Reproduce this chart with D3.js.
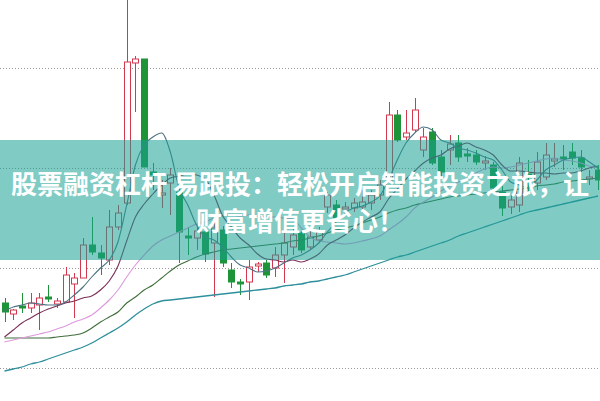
<!DOCTYPE html>
<html><head><meta charset="utf-8">
<script src="https://cdn.jsdelivr.net/npm/d3@7"></script>
<style>html,body{margin:0;padding:0;background:#fff;overflow:hidden}</style>
</head><body><svg id="c" width="600" height="401"></svg>
<script>
const openV=[16.5,15.4,16.2,16.0,16.3,17.1,16.4,16.6,18.4,19.0,22.3,21.5,20.8,24.1,26.5,40.5,40.9,29.6,27.3,28.5,27.6,23.2,23.0,23.6,22.5,23.8,19.8,18.6,18.6,20.2,20.5,20.0,21.3,22.1,23.5,22.1,22.8,26.1,26.3,25.9,26.0,26.1,26.5,27.3,28.8,35.3,33.1,33.8,31.8,33.6,31.1,31.8,32.5,31.4,31.3,30.5,30.3,27.6,26.1,26.3,29.4,28.5,29.1,30.7,31.1,31.6,31.0,28.9,29.8];
const highV=[17.0,15.9,17.5,17.5,17.5,18.3,17.0,20.1,19.5,23.0,25.1,22.3,25.8,26.3,47.3,41.2,40.9,30.5,28.8,30.0,27.8,24.1,24.5,24.0,24.8,24.2,20.5,18.9,20.8,20.6,20.8,22.1,23.5,24.1,23.8,23.7,24.1,27.6,26.8,26.6,27.0,27.8,27.8,28.8,36.6,35.8,35.8,37.0,34.0,34.0,31.8,33.3,33.3,32.0,31.8,31.2,30.6,28.2,27.3,31.1,30.8,31.6,32.5,32.5,32.3,32.5,31.8,29.8,30.3];
const lowV=[14.6,14.8,15.5,15.5,13.8,16.6,16.0,16.6,15.0,19.0,21.3,19.3,20.3,23.8,26.3,35.6,30.1,27.8,26.0,25.3,20.5,21.3,21.8,20.6,17.1,20.1,18.0,17.3,16.8,19.6,19.0,19.1,18.5,21.3,21.5,21.8,22.5,25.5,24.6,25.5,25.6,25.5,25.8,26.8,28.6,32.6,32.8,33.6,31.1,30.3,29.0,30.3,30.6,30.6,30.3,29.8,27.6,25.2,25.4,25.6,27.3,27.8,28.8,30.1,29.8,30.3,29.6,28.3,27.8];
const closeV=[15.6,15.8,16.0,16.5,17.0,16.9,16.7,19.3,19.0,22.3,21.6,21.0,24.1,25.5,40.6,40.9,30.1,29.3,27.5,29.3,23.6,23.0,23.7,21.4,24.0,20.5,18.6,18.4,20.1,20.4,19.3,21.3,22.5,23.3,21.8,23.1,23.6,27.3,25.0,26.1,26.5,26.6,27.3,28.3,35.3,32.8,33.5,35.8,33.1,30.5,29.6,32.4,31.1,31.2,30.6,30.7,28.0,26.0,26.8,30.5,29.1,30.6,31.3,30.9,30.9,31.0,30.1,29.1,28.8];
const ma5=[15.7,16.1,16.3,16.5,16.4,16.3,16.3,16.6,17.3,18.1,19.1,20.0,20.8,22.6,26.3,30.3,32.3,33.1,33.5,31.6,28.0,26.3,24.3,23.1,22.8,22.1,21.1,20.3,20.0,19.6,19.7,20.0,20.5,21.0,21.3,21.8,22.5,23.6,24.6,25.5,26.0,26.2,26.6,27.2,28.8,30.8,32.5,33.5,34.1,33.8,32.8,32.5,32.0,31.8,31.5,31.1,30.8,29.8,28.6,28.3,28.0,28.8,29.8,30.3,30.8,31.0,31.1,30.6,30.0];
const ma10=[13.1,13.8,14.5,15.0,15.5,15.9,16.2,16.5,16.7,17.0,17.2,17.8,18.7,20.2,22.7,25.1,26.4,27.4,28.3,29.0,29.2,29.4,29.3,28.9,27.3,25.2,24.1,23.0,22.3,21.4,20.9,20.8,20.6,20.8,20.6,20.9,21.4,22.3,22.8,23.3,24.0,24.6,25.1,25.6,26.9,27.9,28.9,29.7,30.5,31.0,31.3,31.9,32.2,32.5,32.1,31.8,31.3,30.3,29.7,29.7,29.6,29.5,29.5,29.4,29.5,29.5,29.7,30.0,30.2];
const ma20=[12.6,12.8,13.0,13.2,13.4,13.6,13.9,14.2,14.6,14.9,15.3,16.0,16.8,17.8,19.1,20.3,21.3,22.2,22.8,23.2,23.6,24.0,24.4,24.6,25.0,25.2,25.3,25.2,25.3,25.2,25.1,25.1,25.0,24.9,24.0,23.1,22.7,22.6,22.5,22.4,22.5,22.7,22.9,23.2,23.8,24.4,25.1,26.0,26.6,27.1,27.7,28.2,28.6,29.0,29.5,29.9,30.1,30.0,30.1,30.3,30.5,30.7,30.9,31.0,30.8,30.7,30.5,30.2,30.0];
const ma60=[13.0,13.0,13.0,13.0,13.0,13.0,13.1,13.2,13.3,13.5,14.0,14.6,15.1,15.6,16.5,17.1,17.8,18.3,19.0,19.7,20.3,20.7,21.1,21.4,21.6,21.8,21.9,22.0,22.1,22.2,22.3,22.4,22.5,22.7,22.8,23.0,23.2,23.5,23.8,24.0,24.2,24.5,24.8,25.1,25.5,25.8,26.0,26.3,26.5,26.7,26.9,27.1,27.2,27.3,27.4,27.5,27.6,27.7,27.8,27.9,28.0,28.2,28.3,28.4,28.6,28.7,28.8,28.9,29.0];
const ma120=[9.7,9.9,10.1,10.4,10.6,10.9,11.2,11.5,11.8,12.1,12.5,13.0,13.5,14.0,14.6,15.3,15.9,16.4,16.7,16.8,16.9,17.0,17.1,17.2,17.3,17.4,17.5,17.6,17.7,17.8,17.9,18.0,18.2,18.3,18.4,18.6,18.7,18.9,19.1,19.3,19.6,19.9,20.2,20.5,20.8,21.1,21.3,21.6,21.9,22.2,22.5,22.8,23.2,23.5,23.8,24.1,24.4,24.7,25.0,25.3,25.6,25.8,26.0,26.2,26.4,26.6,26.8,27.0,27.2];
const gridLevels=[10,20,30,40];
const titleLines=["股票融资杠杆 易跟投：轻松开启智能投资之旅，让","财富增值更省心！"];

const W=600,H=401;
const svg=d3.select("#c");
const idx=d3.range(openV.length);
const x=d3.scaleLinear().domain([0,idx.length-1]).range([4.5,598]);
const y=d3.scaleLinear().domain([46.8,6.7]).range([0,H]);

// grid
svg.append("g").selectAll("line").data(gridLevels).join("line")
  .attr("x1",0).attr("x2",W)
  .attr("y1",d=>Math.round(y(d))+0.5).attr("y2",d=>Math.round(y(d))+0.5)
  .attr("stroke","#9a9a9a").attr("stroke-width",1).attr("stroke-dasharray","1,2");

const up="#d2394f", down="#1e9438";
const bw=6;
const cg=svg.append("g");
idx.forEach(i=>{
  const isUp=closeV[i]>=openV[i];
  const col=isUp?up:down;
  const cx=Math.round(x(i))+0.5;
  cg.append("line").attr("x1",cx).attr("x2",cx)
    .attr("y1",y(highV[i])).attr("y2",y(lowV[i]))
    .attr("stroke",col).attr("stroke-width",1);
  const top=y(Math.max(openV[i],closeV[i])), bot=y(Math.min(openV[i],closeV[i]));
  const h=Math.max(1,bot-top);
  cg.append("rect").attr("x",cx-bw/2).attr("y",top).attr("width",bw).attr("height",h)
    .attr("fill",isUp?"#fff":down).attr("stroke",col).attr("stroke-width",1);
});

const lines=[
  {d:ma120,c:"#2f8f9c",w:1.3},
  {d:ma60,c:"#3f6f3a",w:1.1},
  {d:ma20,c:"#dd99dd",w:1.1},
  {d:ma10,c:"#7a2e55",w:1.1},
  {d:ma5,c:"#4d7384",w:1.1}
];
const lg=d3.line().x((d,i)=>x(i)).y(d=>y(d)).curve(d3.curveMonotoneX);
svg.append("g").selectAll("path").data(lines).join("path")
  .attr("d",l=>lg(l.d)).attr("fill","none")
  .attr("stroke",l=>l.c).attr("stroke-width",l=>l.w);

// banner
svg.append("rect").attr("x",0).attr("y",140).attr("width",W).attr("height",120)
  .attr("fill","rgb(24,160,148)").attr("fill-opacity",0.55);
svg.append("g").selectAll("text").data(titleLines).join("text")
  .attr("x",300).attr("y",(d,i)=>182+i*37)
  .attr("text-anchor","middle").attr("dominant-baseline","central")
  .attr("font-family","'Noto Sans CJK SC','Noto Sans',sans-serif")
  .attr("font-weight","bold").attr("font-size",26).attr("fill","#fff")
  .text(d=>d);
</script></body></html>
